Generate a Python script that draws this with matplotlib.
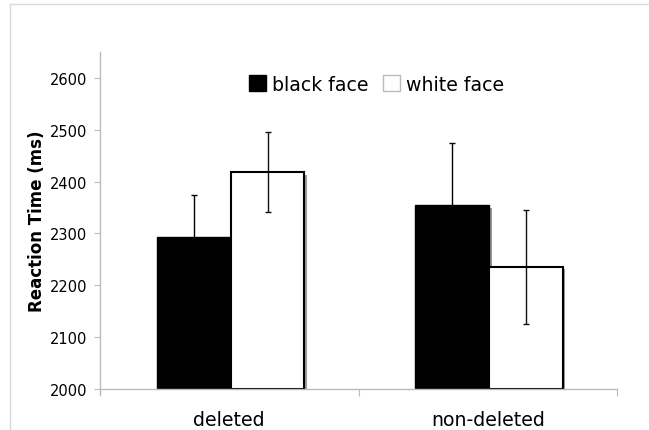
import matplotlib
matplotlib.use("Agg")
import matplotlib.pyplot as plt
import matplotlib.transforms as mtransforms
from matplotlib.patches import Patch
from matplotlib.lines import Line2D
import numpy as np

categories = ["deleted", "non-deleted"]
series_names = ["black face", "white face"]
black_vals = [2294, 2354]
black_err = [80, 120]
white_vals = [2418, 2236]
white_err = [77, 110]
yticks = [2000, 2100, 2200, 2300, 2400, 2500, 2600]

plt.rcParams['font.family'] = ['DejaVu Sans']

fig = plt.figure(figsize=(6.49, 4.31), dpi=100)
ax = fig.add_axes([100/649, 1-390/431, 517/649, 337/431])

# outer frame lines
fig.add_artist(Line2D([10/649, 1], [1-5/431, 1-5/431], color='#d9d9d9', lw=1, transform=fig.transFigure))
fig.add_artist(Line2D([10/649, 10/649], [0, 1-5/431], color='#d9d9d9', lw=1, transform=fig.transFigure))

x = np.arange(len(categories))
w = 0.286
bottom = 2000
shadow = mtransforms.offset_copy(ax.transData, fig=fig, x=2.5, y=-2.5, units='dots')

bx = x - w/2 + 0.005
wx = x + w/2 + 0.005
for xs, vals in [(bx, black_vals), (wx, white_vals)]:
    ax.bar(xs, np.array(vals) - bottom, bottom=bottom, width=w, color='#9a9a9a',
           edgecolor='none', transform=shadow, zorder=1)
ax.bar(bx, np.array(black_vals) - bottom, bottom=bottom, width=w, color='black',
       edgecolor='black', linewidth=1, zorder=2)
ax.bar(wx, np.array(white_vals) - bottom, bottom=bottom, width=w, color='white',
       edgecolor='black', linewidth=1.5, zorder=2)
ax.errorbar(bx, black_vals, yerr=black_err, fmt='none', ecolor='black', elinewidth=1,
            capsize=2.5, capthick=1, zorder=3)
ax.errorbar(wx, white_vals, yerr=white_err, fmt='none', ecolor='#111111', elinewidth=1,
            capsize=2.5, capthick=1, zorder=3)

ax.set_xlim(-0.5, 1.5)
ax.set_ylim(2000, 2650)
ax.set_yticks(yticks)
ax.set_yticklabels([str(t) for t in yticks], fontsize=10.5)
ax.tick_params(axis='y', direction='out', length=4, color='#bbbbbb', pad=5)
ax.set_xticks([-0.5, 0.5, 1.5], minor=False)
ax.set_xticklabels(['', '', ''])
ax.tick_params(axis='x', direction='out', length=5, color='#bbbbbb')
for i, c in enumerate(categories):
    ax.text(x[i], -0.062, c, transform=ax.get_xaxis_transform(), ha='center', va='top', fontsize=13.6)

for s in ['top', 'right']:
    ax.spines[s].set_visible(False)
for s in ['left', 'bottom']:
    ax.spines[s].set_color('#bbbbbb')
    ax.spines[s].set_linewidth(1)
ax.plot([0, 0], [0, -0.015], transform=ax.transAxes, color='#bbbbbb', lw=1, clip_on=False)

ax.set_ylabel("Reaction Time (ms)", fontsize=12, fontweight='bold', labelpad=3)

handles = [Patch(facecolor='black', edgecolor='black', label=series_names[0]),
           Patch(facecolor='white', edgecolor='#bbbbbb', label=series_names[1])]
ax.legend(handles=handles, loc='center', bbox_to_anchor=(0.535, 0.905), ncol=2, frameon=False,
          fontsize=13.6, handlelength=0.9, handleheight=0.9, handletextpad=0.3, columnspacing=0.8)

fig.savefig("out.png", dpi=100)
